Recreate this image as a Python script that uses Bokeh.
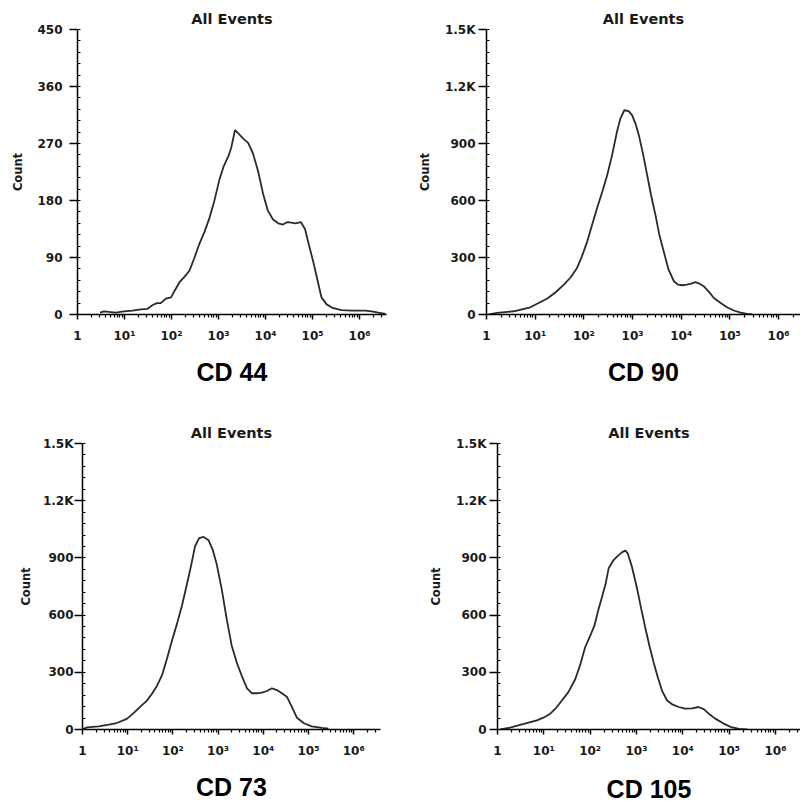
from bokeh.plotting import figure
from bokeh.layouts import column, row
from bokeh.models import Range1d, FixedTicker
from bokeh.embed import file_html
from bokeh.resources import INLINE

# ---------------- data ----------------
# x values are read as log10(intensity) positions on the log axis
TITLE = "All Events"
Y_LABEL = "Count"

cd44_log10 = [0.48, 0.56, 0.67, 0.81, 0.99, 1.17, 1.35, 1.49, 1.60, 1.69, 1.77, 1.88, 1.99,
              2.07, 2.17, 2.27, 2.38, 2.49, 2.59, 2.70, 2.81, 2.91, 3.02, 3.11, 3.21, 3.27,
              3.35, 3.41, 3.52, 3.63, 3.73, 3.84, 3.95, 4.05, 4.16, 4.27, 4.37, 4.47, 4.55,
              4.64, 4.75, 4.84, 4.92, 5.01, 5.11, 5.19, 5.30, 5.44, 5.62, 5.83, 6.12, 6.26,
              6.40, 6.55]
cd44_count = [3, 5, 4, 3, 5, 6, 8, 9, 15, 18, 18, 25, 27,
              38, 51, 59, 69, 90, 111, 130, 153, 179, 213, 234, 250, 263,
              291, 287, 278, 271, 255, 227, 190, 164, 150, 144, 142, 146, 145,
              144, 146, 135, 111, 85, 53, 27, 16, 10, 7, 6, 6, 5,
              3, 1]

cd90_log10 = [0.05, 0.22, 0.56, 0.90, 1.25, 1.42, 1.59, 1.73, 1.86, 1.96, 2.07, 2.17, 2.27,
              2.38, 2.48, 2.58, 2.68, 2.75, 2.83, 2.92, 2.99, 3.06, 3.13, 3.22, 3.30, 3.38,
              3.47, 3.55, 3.64, 3.74, 3.85, 3.93, 4.02, 4.11, 4.19, 4.29, 4.36, 4.46, 4.57,
              4.67, 4.81, 4.94, 5.08, 5.22, 5.35, 5.46]
cd90_count = [0, 9, 17, 38, 84, 117, 157, 196, 245, 306, 385, 472, 559,
              647, 734, 839, 962, 1031, 1075, 1070, 1049, 1005, 944, 839, 734, 629,
              524, 420, 332, 236, 175, 157, 154, 157, 161, 170, 164, 149, 119,
              87, 61, 38, 21, 10, 3, 0]

cd73_log10 = [0.00, 0.10, 0.36, 0.58, 0.76, 0.98, 1.13, 1.28, 1.42, 1.53, 1.65, 1.76, 1.87,
              1.98, 2.09, 2.20, 2.31, 2.40, 2.49, 2.58, 2.68, 2.79, 2.88, 2.97, 3.08, 3.19,
              3.30, 3.42, 3.53, 3.64, 3.75, 3.86, 3.97, 4.08, 4.19, 4.30, 4.41, 4.52, 4.63,
              4.74, 4.89, 5.07, 5.30, 5.44]
cd73_count = [1, 11, 16, 25, 34, 56, 86, 120, 150, 185, 230, 285, 372,
              467, 554, 649, 762, 857, 961, 1004, 1010, 992, 944, 866, 736, 580,
              441, 346, 277, 216, 190, 190, 193, 202, 216, 207, 190, 172, 120,
              63, 34, 16, 8, 4]

cd105_log10 = [0.06, 0.27, 0.63, 0.85, 0.99, 1.14, 1.25, 1.39, 1.53, 1.68, 1.79, 1.89, 2.00,
               2.09, 2.17, 2.25, 2.33, 2.40, 2.49, 2.58, 2.69, 2.76, 2.81, 2.90, 3.01, 3.10,
               3.19, 3.28, 3.37, 3.46, 3.55, 3.66, 3.77, 3.91, 4.05, 4.20, 4.34, 4.45, 4.56,
               4.70, 4.88, 5.03, 5.21, 5.39]
cd105_count = [0, 10, 34, 48, 62, 83, 109, 152, 196, 265, 343, 430, 491,
               543, 621, 690, 760, 846, 884, 907, 930, 938, 924, 855, 742, 635,
               534, 438, 352, 274, 204, 152, 132, 118, 109, 111, 118, 107, 83,
               57, 31, 14, 3, 0]

x_ticks = [1, 10, 100, 1000, 10000, 100000, 1000000]
x_tick_labels = ["1", "10\u00b9", "10\u00b2", "10\u00b3", "10\u2074", "10\u2075", "10\u2076"]

y_ticks_44 = [0, 90, 180, 270, 360, 450]
y_labels_44 = ["0", "90", "180", "270", "360", "450"]
y_ticks_k = [0, 300, 600, 900, 1200, 1500]
y_labels_k = ["0", "300", "600", "900", "1.2K", "1.5K"]

TICK_FONT = "DejaVu Sans"
CD_FONT = "Liberation Sans"
LINE_COLOR = "#2a2a2a"


def make_panel(logs, ys, name, yticks, ylabels, xend_log, height, left, right, top, bottom,
               label_standoff, ylab_standoff, ytick_standoff):
    xs = [10 ** v for v in logs]
    ymax = yticks[-1]
    p = figure(width=400, height=height, x_axis_type="log",
               x_range=Range1d(1, 10 ** xend_log), y_range=Range1d(0, ymax),
               output_backend="svg", toolbar_location=None,
               min_border_left=left, min_border_right=right,
               min_border_top=top, min_border_bottom=bottom)
    p.outline_line_color = None
    p.xgrid.visible = False
    p.ygrid.visible = False
    p.background_fill_color = "white"
    p.border_fill_color = "white"

    p.title.text = TITLE
    p.title.align = "center"
    p.title.text_font = TICK_FONT
    p.title.text_font_style = "bold"
    p.title.text_font_size = "14.5px"
    p.title.text_color = "#1a1a1a"
    p.title.standoff = 6

    p.line(xs, ys, line_color=LINE_COLOR, line_width=1.8)

    # x axis
    minor_x = [m * d for d in x_ticks for m in range(2, 10)]
    xa = p.xaxis[0]
    xa.ticker = FixedTicker(ticks=x_ticks, minor_ticks=minor_x)
    xa.major_label_overrides = {t: l for t, l in zip(x_ticks, x_tick_labels)}
    xa.axis_label = name
    xa.axis_label_text_font = CD_FONT
    xa.axis_label_text_font_style = "bold"
    xa.axis_label_text_font_size = "25px"
    xa.axis_label_text_color = "black"
    xa.axis_label_standoff = label_standoff
    xa.major_label_text_font = TICK_FONT
    xa.major_label_text_font_style = "bold"
    xa.major_label_text_font_size = "12px"
    xa.major_label_text_color = "#1a1a1a"
    xa.major_label_standoff = 9
    xa.major_tick_out = 5
    xa.major_tick_in = 0
    xa.minor_tick_out = 3
    xa.minor_tick_in = 0
    xa.axis_line_width = 1.5
    xa.axis_line_color = "black"
    xa.major_tick_line_color = "black"
    xa.major_tick_line_width = 1.5
    xa.minor_tick_line_color = "black"
    xa.minor_tick_line_width = 1.2

    # y axis
    step = yticks[1] - yticks[0]
    minor_y = [yticks[0] + step * k / 5.0 for k in range(0, 5 * (len(yticks) - 1) + 1)]
    ya = p.yaxis[0]
    ya.ticker = FixedTicker(ticks=yticks, minor_ticks=minor_y)
    ya.major_label_overrides = {t: l for t, l in zip(yticks, ylabels)}
    ya.axis_label = Y_LABEL
    ya.axis_label_text_font = TICK_FONT
    ya.axis_label_text_font_style = "bold"
    ya.axis_label_text_font_size = "11.5px"
    ya.axis_label_text_color = "#1a1a1a"
    ya.axis_label_standoff = ylab_standoff
    ya.major_label_text_font = TICK_FONT
    ya.major_label_text_font_style = "bold"
    ya.major_label_text_font_size = "12px"
    ya.major_label_text_color = "#1a1a1a"
    ya.major_label_standoff = ytick_standoff
    ya.major_tick_out = 8
    ya.major_tick_in = 0
    ya.minor_tick_out = 0
    ya.minor_tick_in = 3
    ya.axis_line_width = 1.5
    ya.axis_line_color = "black"
    ya.major_tick_line_color = "black"
    ya.major_tick_line_width = 1.5
    ya.minor_tick_line_color = "black"
    ya.minor_tick_line_width = 1.2
    return p


p1 = make_panel(cd44_log10, cd44_count, "CD 44", y_ticks_44, y_labels_44, 6.574,
                400, 77, 14, 28, 86, 12, 9, 7)
p2 = make_panel(cd90_log10, cd90_count, "CD 90", y_ticks_k, y_labels_k, 6.45,
                400, 86, 0, 29, 85, 12, 10, 3)
p3 = make_panel(cd73_log10, cd73_count, "CD 73", y_ticks_k, y_labels_k, 6.593,
                407, 82, 20, 43, 76, 12, 7, 1)
p4 = make_panel(cd105_log10, cd105_count, "CD 105", y_ticks_k, y_labels_k, 6.54,
                407, 97, 0, 41, 78, 14, 10, 3)

layout = column(row(p1, p2), row(p3, p4))

with open("out.html", "w") as f:
    f.write(file_html(layout, INLINE))
